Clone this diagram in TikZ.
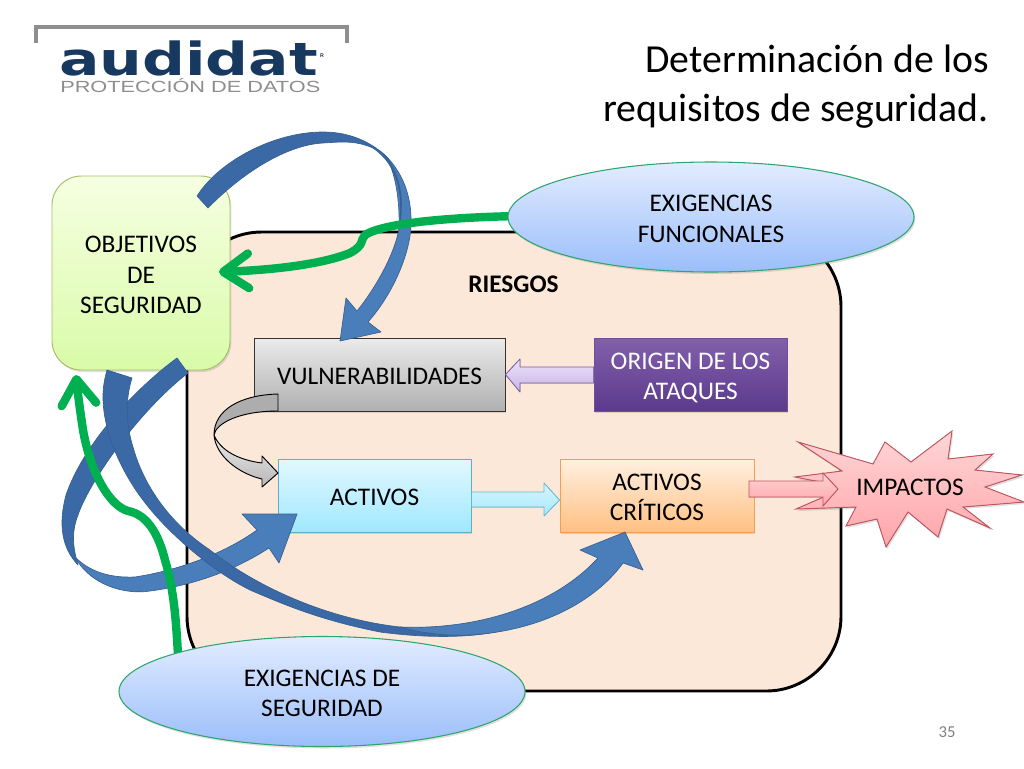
\documentclass[tikz,border=0pt]{standalone}
\usepackage{fontspec}
\setmainfont{Carlito}
\newfontfamily\logofont{DejaVu Sans}
\newfontfamily\logosub{Liberation Sans}
\usetikzlibrary{shapes.geometric,shadows,arrows.meta}
\definecolor{bluedark}{HTML}{3A69A5}
\definecolor{bluelight}{HTML}{4A7EBB}
\definecolor{blueedge}{HTML}{35608F}
\definecolor{greenline}{HTML}{00B050}
\definecolor{ellipseedge}{HTML}{2FA56E}
\definecolor{logoblue}{HTML}{17395F}
\definecolor{logogray}{HTML}{8E8E8E}
\newcommand\linesdown[1]{\raisebox{-3pt}[\height][\depth]{\begin{tabular}{@{}c@{}}#1\end{tabular}}}
\tikzset{
  txtbase/.style={font=\fontsize{19}{23}\selectfont,text=black},
  txt/.style={txtbase,execute at begin node={\rule{0pt}{14.6pt}}},
  softshadow/.style={drop shadow={opacity=.25,shadow xshift=1pt,shadow yshift=-1.5pt}},
  boxwide/.style={minimum width=144.75pt,minimum height=54.75pt,inner sep=0pt},
  blueback/.style={fill=bluedark,draw=blueedge,line width=.5pt,line join=round},
  bluefront/.style={fill=bluelight,draw=blueedge,line width=.5pt,line join=round},
  greenarrow/.style={draw=greenline,line width=6.3pt,line cap=round,line join=round,
     -{Straight Barb[round,length=19pt,width=26pt]}},
  ellipsebox/.style={ellipse,minimum width=304.5pt,minimum height=82.5pt,inner sep=0pt,
     top color={rgb,255:red,226;green,236;blue,255},bottom color={rgb,255:red,155;green,190;blue,250},
     draw=ellipseedge,line width=.8pt,softshadow},
  foldarrow/.style={draw=black,line width=.7pt,line join=round}
}
\begin{document}
\begin{tikzpicture}[x=0.75pt,y=-0.75pt]
\useasboundingbox[fill=white] (0,0) rectangle (1024,768);

% logo
\draw[logogray,line width=3pt] (36,43) -- (36,27) -- (347,27) -- (347,43);
\node[inner sep=0pt,anchor=south west,text=logoblue] (logoa) at (59,76.5)
  {\resizebox{194pt}{26pt}{\logofont\bfseries audidat}};
\node[inner sep=0pt,text=logoblue,font=\logosub\bfseries\fontsize{4}{5}\selectfont] (logor) at (322,56) {R};
\node[inner sep=0pt,anchor=south west,text=logogray] (logob) at (60,92.5)
  {\resizebox{195pt}{10.5pt}{\logosub PROTECCIÓN DE DATOS}};

% title
\node[anchor=north east,inner sep=0pt,align=right,font=\fontsize{29.8}{36.75}\selectfont] (title) at (989,45)
  {Determinación de los\\requisitos de seguridad.};

% risk box
\node[minimum width=490.5pt,minimum height=344.25pt,inner sep=0pt,rounded corners=56pt,
  fill={rgb,255:red,252;green,232;blue,217},draw=black,line width=2.2pt] (risk) at (514,461.5) {};
\node[txt,font=\fontsize{19}{23}\selectfont\bfseries] (risklabel) at (513.5,283) {RIESGOS};

% boxes
\node[txtbase,minimum width=133.5pt,minimum height=145.5pt,inner sep=0pt,rounded corners=22pt,
  top color={rgb,255:red,246;green,255;blue,226},bottom color={rgb,255:red,217;green,251;blue,168},
  draw={rgb,255:red,165;green,190;blue,105},line width=.7pt,softshadow] (obj) at (141,273) {\linesdown{OBJETIVOS\\DE\\SEGURIDAD}};
\node[txt,minimum width=188.25pt,minimum height=54.75pt,inner sep=0pt,
  top color={rgb,255:red,235;green,235;blue,235},bottom color={rgb,255:red,176;green,176;blue,176},
  draw=black!80,line width=.7pt,softshadow] (vul) at (379.5,374.5) {VULNERABILIDADES};
\node[txtbase,boxwide,text=white,
  top color={rgb,255:red,130;green,96;blue,172},bottom color={rgb,255:red,92;green,58;blue,140},
  draw={rgb,255:red,110;green,80;blue,150},line width=.5pt,softshadow] (ori) at (690.5,374.5) {\linesdown{ORIGEN DE LOS\\ATAQUES}};
\node[txt,boxwide,
  top color={rgb,255:red,226;green,248;blue,255},bottom color={rgb,255:red,160;green,232;blue,255},
  draw={rgb,255:red,95;green,175;blue,200},line width=.7pt,softshadow] (act) at (374.5,495.5) {ACTIVOS};
\node[txtbase,boxwide,minimum width=145.5pt,
  top color={rgb,255:red,255;green,240;blue,225},bottom color={rgb,255:red,255;green,192;blue,130},
  draw={rgb,255:red,240;green,160;blue,80},line width=.7pt,softshadow] (cri) at (657,495.5) {\linesdown{ACTIVOS\\CRÍTICOS}};

% straight block arrows
\fill[top color={rgb,255:red,238;green,226;blue,250},bottom color={rgb,255:red,200;green,180;blue,232},
  draw={rgb,255:red,120;green,95;blue,160},line width=.6pt,line join=round]
  (ori.west |- 0,367) -- (520,367) -- (520,359) -- (vul.east) -- (520,392) -- (520,383) -- (ori.west |- 0,383) -- cycle;
\fill[top color={rgb,255:red,215;green,245;blue,255},bottom color={rgb,255:red,165;green,232;blue,250},
  draw={rgb,255:red,100;green,185;blue,205},line width=.6pt,line join=round]
  (act.east |- 0,492) -- (544,492) -- (544,483) -- (cri.west |- 0,500) -- (544,516) -- (544,507) -- (act.east |- 0,507) -- cycle;

% star
\fill[top color={rgb,255:red,255;green,214;blue,214},bottom color={rgb,255:red,255;green,165;blue,170},
  draw={rgb,255:red,190;green,85;blue,95},line width=.7pt,line join=miter,softshadow]
  (798,442) -- (873,464) -- (885,442) -- (911,462) -- (952,431) -- (948,459) -- (993,454) -- (975,470)
  -- (1022,475) -- (985,487) -- (1024,502) -- (963,507) -- (990,528) -- (947,509) -- (938,537)
  -- (908,512) -- (886,547) -- (877,519) -- (846,526) -- (856,507) -- (796,509) -- (826,496)
  -- (826,483) -- (795,477) -- (842,471) -- cycle;
\node[txt,inner sep=0pt] (imp) at (910,486) {IMPACTOS};
\fill[top color={rgb,255:red,255;green,212;blue,212},bottom color={rgb,255:red,255;green,165;blue,170},
  draw={rgb,255:red,190;green,85;blue,95},line width=.7pt,line join=miter]
  (749,481) -- (823,481) -- (823,473) -- (838,489) -- (823,506) -- (823,497) -- (749,497) -- cycle;

% grey curved arrow
\fill[fill=black!32,foldarrow] (278,394) .. controls (240,395) and (214,410) .. (214,435)
  .. controls (216,423) and (240,411) .. (278,411) -- cycle;
\fill[top color=black!8,bottom color=black!28,foldarrow] (214,435) .. controls (216,457) and (240,474) .. (262,479)
  -- (262,487) -- (278,473) -- (262,456) -- (262,463) .. controls (238,460) and (220,450) .. (214,435) -- cycle;

% blue arrow: to ACTIVOS
\path[blueback,fill] (177,358) .. controls (140,385) and (85,440) .. (66,495)
  .. controls (58,525) and (62,548) .. (78,565) .. controls (72,545) and (72,530) .. (78,515)
  .. controls (90,480) and (140,410) .. (188,373) -- cycle;
\path[bluefront,fill] (75,557) .. controls (90,585) and (125,595) .. (150,591)
  .. controls (195,585) and (235,570) .. (269,548) -- (279,563) -- (297,514) -- (242,514) -- (257,530)
  .. controls (225,553) and (180,570) .. (135,577) .. controls (110,578) and (90,572) .. (75,557) -- cycle;

% blue arrow: to ACTIVOS CRITICOS
\path[blueback,fill] (107,370) -- (132,378) .. controls (125,400) and (126,425) .. (133,447)
  .. controls (142,480) and (165,520) .. (210,550) .. controls (250,582) and (320,618) .. (400,627)
  .. controls (430,630) and (470,630) .. (500,631) .. controls (460,640) and (410,636) .. (380,632)
  .. controls (320,620) and (285,605) .. (250,590) .. controls (210,570) and (165,530) .. (143,500)
  .. controls (120,470) and (103,430) .. (103,397) .. controls (103,385) and (105,378) .. (107,370) -- cycle;
\path[bluefront,fill] (400,627) .. controls (470,630) and (550,610) .. (598,558) -- (580,550) -- (625,532)
  -- (643,570) -- (623,563) .. controls (600,595) and (550,630) .. (470,635)
  .. controls (445,636) and (420,633) .. (400,627) -- cycle;

% blue arrow: to VULNERABILIDADES
\path[bluefront,fill] (385,155) .. controls (402,172) and (412,195) .. (411,225)
  .. controls (410,255) and (392,295) .. (368,322) -- (381,332) -- (340,341) -- (346,298) -- (357,311)
  .. controls (378,285) and (396,250) .. (399,228) .. controls (400,200) and (395,170) .. (385,155) -- cycle;
\path[blueback,fill] (197,196) .. controls (220,160) and (275,132) .. (323,132)
  .. controls (350,132) and (370,142) .. (385,155) .. controls (397,170) and (406,195) .. (399,228)
  .. controls (404,195) and (398,165) .. (373,148) .. controls (355,140) and (340,142) .. (323,143)
  .. controls (285,145) and (240,175) .. (208,208) -- cycle;

% green connectors
\coordinate (gfun) at (520,216);
\coordinate (gobj) at (219,272);
\coordinate (gseg) at (178,655);
\coordinate (gtop) at (76,375);
\draw[greenarrow] (gfun) .. controls (460,217) and (385,222) .. (365,235)
  .. controls (360,240) and (365,245) .. (350,253) .. controls (320,265) and (270,270) .. (gobj);
\draw[greenarrow] (gseg) .. controls (176,620) and (174,590) .. (165,560)
  .. controls (160,540) and (150,515) .. (128,511) .. controls (108,505) and (90,470) .. (83,430)
  .. controls (80,410) and (78,395) .. (gtop);

% ellipses
\node[txtbase,ellipsebox] (fun) at (711,217) {\linesdown{EXIGENCIAS\\FUNCIONALES}};
\node[txtbase,ellipsebox] (seg) at (322,691.5) {\linesdown{EXIGENCIAS DE\\SEGURIDAD}};

% page number
\node[inner sep=0pt,text=black!50,font=\fontsize{12.5}{14}\selectfont] (page) at (947,732) {35};
\end{tikzpicture}
\end{document}
